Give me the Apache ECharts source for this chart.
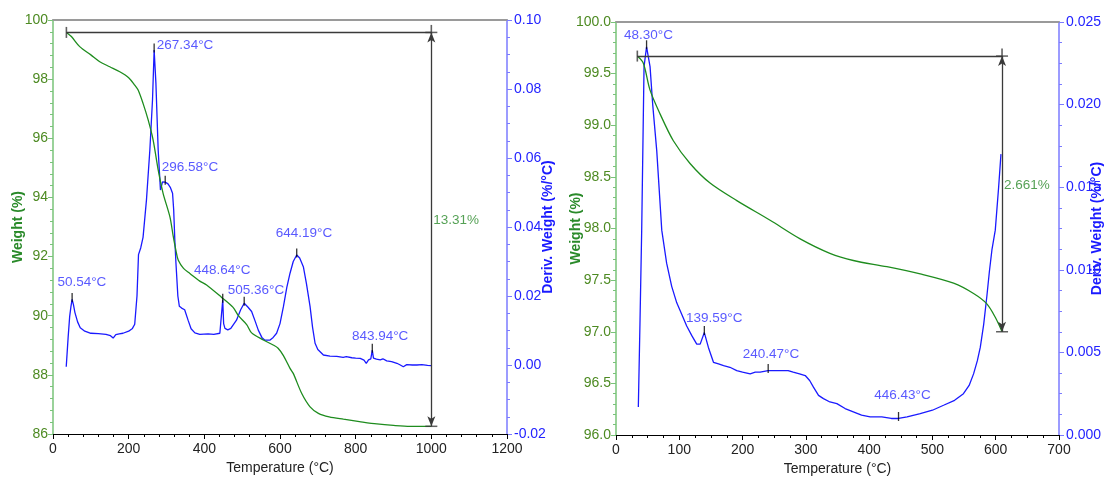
<!DOCTYPE html>
<html><head><meta charset="utf-8">
<script src="https://cdn.jsdelivr.net/npm/echarts@6/dist/echarts.min.js"></script>
<style>html,body{margin:0;padding:0;background:#fff}#c{width:1104px;height:477px}</style>
</head><body><div id="c"></div>
<script>
// ---------- DATA ----------
const tgaLeft = [[35.4,99.58],[48.6,99.44],[70.6,99.10],[100,98.82],[123.6,98.59],[150,98.42],[176.5,98.25],[200,98.05],[216,97.80],[225,97.63],[238,97.18],[251.5,96.62],[264.7,95.94],[278,94.93],[291,94.14],[308.9,93.35],[317.6,92.70],[325,92.20],[330.9,91.88],[345,91.60],[361.8,91.43],[388,91.17],[406,91.04],[445.7,90.62],[476,90.28],[490,90.00],[511.9,89.70],[525,89.42],[556,89.18],[582,89.01],[595,88.90],[609,88.65],[626.5,88.22],[635,88.05],[657.5,87.37],[679.5,86.92],[701.5,86.70],[730,86.58],[767.6,86.50],[810,86.42],[856,86.34],[900,86.29],[944,86.26],[1000,86.26]];
const dtgLeft = [[35,-0.0005],[40,0.008],[44,0.014],[47.5,0.017],[50.54,0.019],[54,0.0175],[58,0.0152],[65,0.0125],[72,0.0108],[84,0.0098],[100,0.0092],[120,0.0091],[140,0.0089],[152,0.0085],[159,0.0078],[166,0.0088],[175,0.0090],[185,0.0092],[200,0.0098],[210,0.0106],[216,0.0118],[222,0.0200],[226,0.0320],[232,0.0340],[238,0.0370],[247,0.0478],[256,0.0623],[263,0.0768],[267.34,0.0913],[272,0.0817],[278,0.0623],[284,0.0507],[289.5,0.0531],[296.58,0.0530],[304,0.0525],[310,0.0515],[316,0.0498],[319,0.0450],[322,0.0362],[325,0.0295],[330,0.0200],[334,0.0170],[340,0.0165],[348,0.0160],[357,0.0130],[365,0.0105],[375,0.0093],[388,0.0089],[410,0.0090],[425,0.0089],[441,0.0092],[445,0.0095],[448.64,0.0188],[451,0.0120],[454.5,0.0106],[462,0.0102],[470,0.0106],[485,0.0130],[496,0.0160],[505.36,0.0179],[515,0.0168],[525,0.0155],[535,0.0125],[542.6,0.0101],[552,0.0080],[560,0.0072],[573,0.0072],[582,0.0080],[591,0.0092],[600,0.0120],[609,0.0169],[618,0.0225],[626.5,0.0266],[635,0.0300],[644.19,0.0319],[652,0.0310],[661.7,0.0285],[670,0.0235],[679.5,0.0169],[686,0.0110],[692.7,0.0063],[700,0.0045],[714.7,0.0029],[732,0.0026],[750,0.0025],[767,0.0022],[775,0.0024],[780,0.0019],[790,0.0021],[800,0.0020],[812,0.0019],[822,0.0014],[828,0.0005],[834,0.0015],[840,0.0018],[843.94,0.0043],[847,0.0020],[855,0.0017],[865,0.0015],[872,0.0018],[882,0.0012],[895,0.0010],[909,0.0005],[918,0.0000],[926,-0.0005],[935,0.0001],[950,0.0000],[962,0.0000],[975,0.0001],[990,-0.0001],[1000,-0.0002]];
const tgaRight = [[33.7,99.67],[43.2,99.60],[53.8,99.34],[69.6,99.11],[90.6,98.85],[117,98.63],[148.6,98.44],[190.9,98.27],[243.5,98.08],[291,97.90],[338,97.76],[375,97.69],[428,97.63],[480.7,97.56],[533.4,97.47],[565,97.37],[586,97.27],[599.3,97.14],[610,97.00]];
const dtgRight = [[35.3,0.0017],[38,0.0070],[40.6,0.0124],[44.3,0.0223],[48.30,0.0235],[53.8,0.0223],[58,0.0200],[64.4,0.0172],[72.3,0.0124],[80,0.0104],[88,0.0090],[96,0.0080],[104,0.0073],[111.7,0.0066],[120,0.0060],[127.6,0.0055],[133,0.0055],[139.59,0.0062],[146,0.0053],[154,0.0044],[162,0.0043],[170,0.0042],[180,0.0041],[190.8,0.0039],[200,0.0038],[212,0.0037],[220,0.0038],[227.7,0.0038],[240.47,0.0039],[252,0.0039],[264.6,0.0039],[272,0.0039],[280,0.0038],[290,0.0037],[299,0.0036],[306,0.0033],[312,0.0029],[320,0.0024],[327.8,0.0022],[338,0.0020],[349,0.0019],[362,0.0016],[375,0.0014],[388,0.0012],[401.6,0.0011],[420,0.0011],[435,0.0010],[446.43,0.0010],[460,0.0011],[480.7,0.0013],[500,0.0015],[517.6,0.0018],[535,0.0021],[549,0.0025],[558,0.0030],[565,0.0037],[571,0.0045],[575.6,0.0053],[581,0.0067],[586,0.0084],[590,0.0099],[594,0.0112],[599.3,0.0124],[604.6,0.0150],[608.3,0.0170]];
const peakTempLeft = [50.54, 267.34, 296.58, 448.64, 505.36, 644.19, 843.94];
const peakDerivLeft = [0.019, 0.0913, 0.0530, 0.0188, 0.0179, 0.0319, 0.0043];
const peakTempRight = [48.30, 139.59, 240.47, 446.43];
const peakDerivRight = [0.0235, 0.0062, 0.0039, 0.0010];
const stepLeft = {from: 35.4, to: 1000, top: 99.58, bottom: 86.26, text: '13.31%'};
const stepRight = {from: 33.7, to: 610, top: 99.67, bottom: 97.00, text: '2.661%'};
const xRangeLeft = [0, 1200, 200];
const xRangeRight = [0, 700, 100];
const wRangeLeft = [86, 100, 2];
const dRangeLeft = [-0.02, 0.10, 0.02];
const wRangeRight = [96, 100, 0.5];
const dRangeRight = [0, 0.025, 0.005];

// ---------- STYLE ----------
const FONT = "'Liberation Sans', Arial, sans-serif";
const GREEN_AX = '#79c379', GREEN_LBL = '#4d8a22', GREEN_LINE = '#1e8c1e', GREEN_NAME = '#2a8a2a';
const BLUE_AX = '#7b7bff', BLUE_LBL = '#2323ff', BLUE_LINE = '#1a1aff', BLUE_TXT = '#3030ff';
const labelOffLeft = [[-14.7,-17],[2.7,-5],[-3.4,-15.2],[-28.8,-29.4],[-16.5,-13.2],[-21,-22],[-20.4,-13.5]];
const labelOffRight = [[-22.5,-11.5],[-18.3,-14.5],[-25.4,-16.5],[-24.3,-22.8]];

function xAx(g, r, minorN) {
  return {gridIndex: g, type: 'value', min: r[0], max: r[1], interval: r[2], position: 'bottom',
    name: 'Temperature (°C)', nameLocation: 'middle', nameGap: 27, nameMoveOverlap: false,
    nameTextStyle: {color: '#222', fontSize: 14, fontFamily: FONT},
    axisLine: {show: true, onZero: false, lineStyle: {color: '#000', width: 1}},
    axisTick: {show: true, length: 5, lineStyle: {color: '#000'}},
    minorTick: {show: true, splitNumber: minorN, length: 3, lineStyle: {color: '#000'}},
    axisLabel: {color: '#222', fontSize: 14, fontFamily: FONT, margin: 8, formatter: v => String(v)},
    splitLine: {show: false}, minorSplitLine: {show: false}};
}
function xTop(g, r) {
  return {gridIndex: g, type: 'value', min: r[0], max: r[1], position: 'top',
    axisLine: {show: true, onZero: false, lineStyle: {color: '#9a9a9a', width: 2}},
    axisTick: {show: false}, axisLabel: {show: false}, splitLine: {show: false}};
}
function wAx(g, r, dec, gap) {
  return {gridIndex: g, type: 'value', min: r[0], max: r[1], interval: r[2], position: 'left',
    name: 'Weight (%)', nameLocation: 'middle', nameRotate: 90, nameGap: gap, nameMoveOverlap: false,
    nameTextStyle: {color: GREEN_NAME, fontSize: 14, fontWeight: 'bold', fontFamily: FONT},
    axisLine: {show: true, onZero: false, lineStyle: {color: GREEN_AX, width: 1.5}},
    axisTick: {show: true, length: 5, lineStyle: {color: GREEN_AX}},
    minorTick: {show: true, splitNumber: 5, length: 3, lineStyle: {color: GREEN_AX}},
    axisLabel: {color: GREEN_LBL, fontSize: 14, fontFamily: FONT, margin: 5, formatter: v => v.toFixed(dec)},
    splitLine: {show: false}};
}
function dAx(g, r, dec, gap) {
  return {gridIndex: g, type: 'value', min: r[0], max: r[1], interval: r[2], position: 'right',
    name: 'Deriv. Weight (%/°C)', nameLocation: 'middle', nameRotate: 90, nameGap: gap, nameMoveOverlap: false,
    nameTextStyle: {color: BLUE_LINE, fontSize: 14, fontWeight: 'bold', fontFamily: FONT},
    axisLine: {show: true, onZero: false, lineStyle: {color: BLUE_AX, width: 1.5}},
    axisTick: {show: true, length: 5, lineStyle: {color: BLUE_AX}},
    minorTick: {show: true, splitNumber: 4, length: 3, lineStyle: {color: BLUE_AX}},
    axisLabel: {color: BLUE_LBL, fontSize: 14, fontFamily: FONT, margin: 7, formatter: v => (Math.abs(v) < 1e-9 ? 0 : v).toFixed(dec)},
    splitLine: {show: false}};
}
function peakMarks(xi, yi, temps, ders, offs) {
  return [{
    type: 'scatter', xAxisIndex: xi, yAxisIndex: yi, symbol: 'rect', symbolSize: [1.3, 9], symbolOffset: [0, -2],
    itemStyle: {color: '#000'}, silent: true, z: 5,
    data: temps.map((t, i) => [t, ders[i]])
  }, {
    type: 'scatter', xAxisIndex: xi, yAxisIndex: yi, symbol: 'circle', symbolSize: 1,
    itemStyle: {color: 'rgba(0,0,0,0)'}, silent: true, z: 6,
    data: temps.map((t, i) => ({value: [t, ders[i]], label: {offset: offs[i]}})),
    label: {show: true, position: 'inside', align: 'left', verticalAlign: 'middle',
      color: BLUE_TXT, fontSize: 13.5, fontFamily: FONT,
      formatter: p => p.value[0].toFixed(2) + '°C'}
  }];
}
function stepSeries(xi, yi, s) {
  const mid = (s.top + s.bottom) / 2;
  return [{
    type: 'line', xAxisIndex: xi, yAxisIndex: yi, data: [], silent: true,
    markLine: {silent: true, animation: false, symbol: ['none', 'none'],
      lineStyle: {color: '#3a3a3a', width: 1.3, type: 'solid'}, label: {show: false},
      emphasis: {disabled: true},
      data: [
        [{coord: [s.from, s.top]}, {coord: [s.to, s.top]}],
        [{coord: [s.to, s.top], symbol: 'arrow', symbolSize: [6, 10]}, {coord: [s.to, s.bottom], symbol: 'arrow', symbolSize: [6, 10]}]
      ]}
  }, {
    type: 'scatter', xAxisIndex: xi, yAxisIndex: yi, symbol: 'rect', silent: true, z: 5,
    itemStyle: {color: '#3a3a3a'},
    data: [
      {value: [s.from, s.top], symbolSize: [1.6, 11]},
      {value: [s.to, s.top], symbolSize: [12, 1.5]},
      {value: [s.to, s.top], symbolSize: [1.6, 9], symbolOffset: [0, -3]},
      {value: [s.to, s.bottom], symbolSize: [12, 1.5]}
    ]
  }, {
    type: 'scatter', xAxisIndex: xi, yAxisIndex: yi, symbolSize: 1, silent: true,
    itemStyle: {color: 'rgba(0,0,0,0)'},
    data: [[s.to, mid]],
    label: {show: true, position: 'inside', align: 'left', verticalAlign: 'middle', offset: [2, -9],
      color: GREEN_NAME, fontSize: 13.5, fontFamily: FONT, formatter: () => s.text}
  }];
}

const chart = echarts.init(document.getElementById('c'), null, {renderer: 'canvas'});
chart.setOption({
  animation: false,
  backgroundColor: '#fff',
  grid: [
    {left: 53, right: 597, top: 20, bottom: 43, outerBoundsMode: 'none', containLabel: false},
    {left: 616, right: 45, top: 22, bottom: 42, outerBoundsMode: 'none', containLabel: false}
  ],
  xAxis: [xAx(0, xRangeLeft, 5), xTop(0, xRangeLeft), xAx(1, xRangeRight, 4), xTop(1, xRangeRight)],
  yAxis: [wAx(0, wRangeLeft, 0, 28), dAx(0, dRangeLeft, 2, 34), wAx(1, wRangeRight, 1, 33), dAx(1, dRangeRight, 3, 31)],
  series: [
    {type: 'line', xAxisIndex: 0, yAxisIndex: 0, data: tgaLeft, showSymbol: false, smooth: 0.3,
      lineStyle: {color: GREEN_LINE, width: 1.3}, itemStyle: {color: GREEN_LINE}, z: 3},
    {type: 'line', xAxisIndex: 0, yAxisIndex: 1, data: dtgLeft, showSymbol: false,
      lineStyle: {color: BLUE_LINE, width: 1.3}, itemStyle: {color: BLUE_LINE}, z: 2},
    {type: 'line', xAxisIndex: 2, yAxisIndex: 2, data: tgaRight, showSymbol: false, smooth: 0.3,
      lineStyle: {color: GREEN_LINE, width: 1.3}, itemStyle: {color: GREEN_LINE}, z: 3},
    {type: 'line', xAxisIndex: 2, yAxisIndex: 3, data: dtgRight, showSymbol: false,
      lineStyle: {color: BLUE_LINE, width: 1.3}, itemStyle: {color: BLUE_LINE}, z: 2},
    ...peakMarks(0, 1, peakTempLeft, peakDerivLeft, labelOffLeft),
    ...peakMarks(2, 3, peakTempRight, peakDerivRight, labelOffRight),
    ...stepSeries(0, 0, stepLeft),
    ...stepSeries(2, 2, stepRight)
  ]
});
</script></body></html>
